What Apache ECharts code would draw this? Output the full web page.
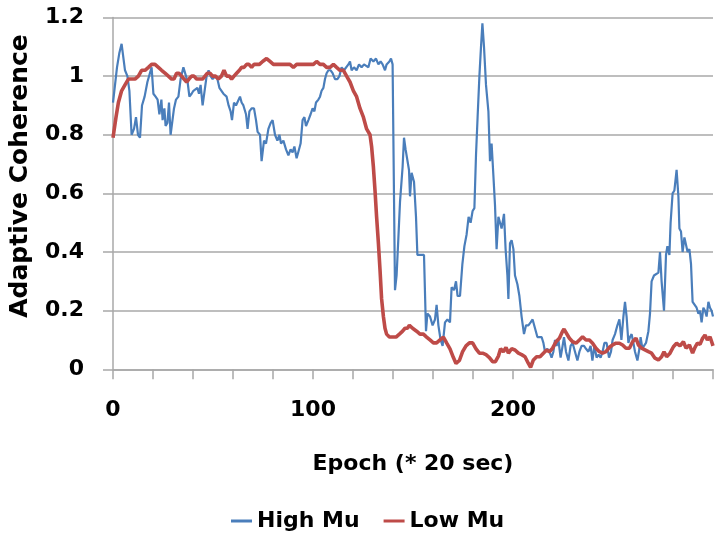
<!DOCTYPE html>
<html>
<head>
<meta charset="utf-8">
<script src="https://cdn.jsdelivr.net/npm/echarts@6/dist/echarts.min.js"></script>
<style>html,body{margin:0;padding:0;background:#fff}#c{width:723px;height:538px}</style>
</head>
<body>
<div id="c"></div>
<script>
// ---- data ----
var xTickLabels = ['0', '100', '200'];
var yTickLabels = ['0', '0.2', '0.4', '0.6', '0.8', '1', '1.2'];
var seriesNames = ['High Mu', 'Low Mu'];

var highMuEpochs = [0,2,3.2,4.3,6,7.2,8.2,9.3,10.5,11.5,12.5,13.5,14.5,15.8,17.2,18.2,19.3,20.2,21.3,22.3,23.2,24.2,24.8,25.7,26.3,27.2,28,28.8,29.5,30.5,31.5,32.7,33.8,35.2,36.5,37.3,38.2,39.3,40.2,41.2,42.2,43,43.8,44.8,45.8,46.8,47.8,48.8,49.8,51.2,52.2,53.2,54.2,55.2,56,56.8,57.8,58.8,59.5,60.5,61.5,62.5,63.5,64.3,65.2,66.5,67.3,68.2,69.3,70.5,71.5,72.3,73.5,74.3,75.5,76.5,77.7,78.8,79.8,81,82.2,83.2,84,85.2,86.5,87.7,88.8,89.8,90.7,91.8,93,93.8,94.8,95.7,96.5,97.7,98.8,99.8,100.7,101.5,102.7,103.5,104.3,105.2,106,106.8,107.7,108.8,109.8,111,112.2,113.2,114.3,115.5,116.5,117.7,118.5,119.3,120.5,121.8,123,124.3,125.5,126.5,127.7,128.8,130.2,131.5,132.7,133.8,134.8,136,136.8,138.2,139,139.8,141,141.8,142.7,143.5,144.8,145.5,146.3,147.2,148,148.5,149.3,150.5,151.5,152.2,153.5,155.5,156.5,157.2,158.5,159.8,161,161.8,162.7,163.8,164.8,166,167.2,168.5,169.3,170.5,171.5,172.3,173.5,174.7,175.7,176.8,177.8,178.8,179.8,180.7,181.5,182.3,183.2,184,184.7,185.5,186.5,187.7,188.5,189.3,190.2,191,191.8,192.7,193.5,194.3,195.5,196.3,197.2,197.7,198.5,199.3,200.2,201,202.2,203.2,204.3,205.5,206.5,207.7,208.8,209.8,211,212.2,213.2,214.3,215.2,216,217.2,218.2,219.3,220.2,221,221.8,222.7,223.8,224.8,225.5,226.5,227.7,228.8,229.8,231,232.2,233.2,234.3,235.5,236.5,237.7,238.8,239.7,240.7,241.8,242.8,243.8,244.8,245.7,246.8,248,249,249.8,251,252.2,253.2,254.2,255.2,256,256.8,257.7,258.5,259.3,260.2,261,262.2,263.2,263.8,264.7,265.5,266.5,267.7,268.5,269.3,270.5,271.5,272.7,273.5,274.3,275.5,276.5,277.2,278.2,278.8,279.8,280.7,281.8,282.7,283.2,284,284.8,285.7,286.5,287.3,288.2,289,289.8,290.8,291.8,292.7,293.5,294.3,295.2,296,296.8,297.7,298.5,299.3,300];
var highMuValues = [0.91,1.03,1.08,1.11,1.02,1.0,0.95,0.8,0.82,0.86,0.8,0.79,0.9,0.93,0.98,0.98,1.03,0.94,0.93,0.92,0.87,0.92,0.85,0.89,0.83,0.84,0.91,0.8,0.8,0.89,0.92,0.93,0.99,1.03,1.0,0.98,0.93,0.94,0.95,0.95,0.96,0.94,0.97,0.9,0.95,1.0,1.02,1.0,0.99,1.0,0.99,0.96,0.96,0.94,0.94,0.93,0.9,0.88,0.85,0.91,0.9,0.9,0.93,0.91,0.9,0.87,0.82,0.88,0.89,0.89,0.85,0.81,0.8,0.71,0.78,0.77,0.82,0.84,0.85,0.8,0.78,0.8,0.77,0.78,0.75,0.73,0.75,0.74,0.76,0.72,0.75,0.77,0.85,0.86,0.83,0.85,0.87,0.89,0.88,0.91,0.92,0.93,0.95,0.96,0.99,1.01,1.02,1.02,1.01,0.99,0.99,1.0,1.03,1.02,1.02,1.04,1.05,1.02,1.03,1.02,1.04,1.03,1.04,1.04,1.03,1.06,1.05,1.06,1.04,1.05,1.04,1.02,1.04,1.05,1.06,1.04,0.27,0.32,0.45,0.57,0.69,0.79,0.75,0.75,0.68,0.59,0.67,0.64,0.52,0.39,0.39,0.39,0.13,0.19,0.18,0.15,0.17,0.22,0.15,0.1,0.08,0.16,0.17,0.16,0.28,0.27,0.3,0.25,0.25,0.36,0.42,0.46,0.52,0.5,0.54,0.55,0.73,0.86,1.0,1.1,1.18,1.1,0.97,0.88,0.71,0.77,0.66,0.56,0.41,0.52,0.52,0.48,0.53,0.41,0.32,0.24,0.43,0.44,0.41,0.32,0.29,0.25,0.18,0.12,0.15,0.15,0.16,0.17,0.14,0.11,0.11,0.11,0.09,0.06,0.07,0.06,0.04,0.06,0.1,0.08,0.1,0.04,0.08,0.11,0.06,0.03,0.08,0.09,0.06,0.03,0.06,0.08,0.08,0.07,0.06,0.08,0.03,0.08,0.04,0.05,0.04,0.06,0.09,0.09,0.04,0.06,0.1,0.12,0.15,0.17,0.1,0.18,0.23,0.18,0.09,0.11,0.12,0.09,0.06,0.03,0.07,0.11,0.07,0.08,0.09,0.13,0.19,0.3,0.32,0.32,0.33,0.4,0.3,0.2,0.39,0.42,0.39,0.5,0.6,0.61,0.68,0.59,0.48,0.47,0.4,0.45,0.45,0.4,0.41,0.36,0.23,0.23,0.21,0.19,0.2,0.16,0.21,0.2,0.18,0.23,0.21,0.2,0.18];

var lowMuEpochs = [0,1.5,2.7,4.3,6,7.7,9.3,11,12.7,14.3,16,17.7,19.3,21,22.7,24.3,26,27.7,29.3,30.5,31.8,33,34.3,35.5,36.8,38,39.3,40.5,41.8,43.2,44.8,46,47.2,48.5,49.8,51.2,52.7,54.2,55.5,56.8,58.2,59.3,60.5,61.8,63.2,64.3,65.5,66.8,68,69.3,70.5,71.8,73.2,74.8,76.8,78.5,80.2,81.8,83.5,85.2,86.8,88.5,90.2,91.8,93.5,95.2,96.8,98.5,100.2,101.8,103.5,105.2,106.8,108.5,110.2,111.8,113.5,115.2,116.8,118.5,120.2,121.8,123.5,125.2,126.8,128.5,129.3,130.2,131,131.8,132.7,133.5,134.3,135.2,136,136.8,138.2,139.8,141.5,143.2,144.8,146,147.2,148.2,149.8,151.8,153.5,155.2,156.8,158.5,160.2,161.8,163.5,165.2,166.8,168.5,170.2,171.5,173.2,174.8,176.5,178.2,179.8,181.5,183.2,184.8,186.5,188.2,189.8,191.2,192.7,193.8,195.2,196.5,197.7,199.3,201,202.7,204.3,206,207.7,208.8,210.2,211.8,213.5,215.2,216.8,218.2,219.8,221.5,223.2,224.8,225.5,226.5,228.2,229.8,231.5,233.2,234.8,236.5,238.2,239.8,241.5,243.2,244.8,246.5,248.2,249.8,251.5,253.2,254.8,256.5,258.2,259.8,261.5,262.7,264.3,266,267.7,269.3,271,272.7,274.3,275.5,276.8,278.5,280.2,281.8,283.5,285.2,286.5,288.2,289.8,291,292.2,293.5,294.8,296,297.2,298.5,300];
var lowMuValues = [0.79,0.86,0.91,0.95,0.97,0.99,0.99,0.99,1.0,1.02,1.02,1.03,1.04,1.04,1.03,1.02,1.01,1.0,0.99,0.99,1.01,1.01,1.0,0.99,0.98,0.99,1.0,1.0,0.99,0.99,0.99,1.0,1.01,1.01,1.0,1.0,0.99,1.0,1.02,1.0,1.0,0.99,1.0,1.01,1.02,1.03,1.03,1.04,1.04,1.03,1.04,1.04,1.04,1.05,1.06,1.05,1.04,1.04,1.04,1.04,1.04,1.04,1.03,1.04,1.04,1.04,1.04,1.04,1.04,1.05,1.04,1.04,1.03,1.03,1.04,1.03,1.02,1.02,1.0,0.98,0.95,0.93,0.89,0.86,0.82,0.8,0.76,0.69,0.61,0.52,0.43,0.34,0.24,0.18,0.14,0.12,0.11,0.11,0.11,0.12,0.13,0.14,0.14,0.15,0.14,0.13,0.12,0.12,0.11,0.1,0.09,0.09,0.1,0.11,0.09,0.07,0.04,0.02,0.03,0.06,0.08,0.09,0.09,0.07,0.055,0.055,0.05,0.04,0.026,0.026,0.045,0.07,0.06,0.075,0.055,0.07,0.066,0.055,0.05,0.043,0.02,0.007,0.032,0.043,0.043,0.055,0.066,0.06,0.072,0.094,0.106,0.13,0.137,0.132,0.106,0.094,0.089,0.1,0.111,0.1,0.1,0.089,0.072,0.06,0.055,0.06,0.075,0.083,0.089,0.089,0.083,0.072,0.072,0.094,0.106,0.083,0.072,0.066,0.06,0.055,0.038,0.032,0.043,0.06,0.043,0.055,0.077,0.089,0.08,0.094,0.072,0.083,0.055,0.075,0.089,0.085,0.106,0.117,0.1,0.111,0.08];

function pairs(xs, ys) { return xs.map(function (x, i) { return [x, ys[i]]; }); }

var FONT = 'DejaVu Sans';
var GRID_COLOR = '#a8a8a8';
var BLUE = '#4a7ebb', RED = '#be4b48';
var chart = echarts.init(document.getElementById('c'), null, { renderer: 'canvas' });
chart.setOption({
  animation: false,
  backgroundColor: '#ffffff',
  grid: { left: 113, right: 10, top: 17.5, bottom: 168.7, containLabel: false, outerBoundsMode: 'none' },
  legend: {
    data: [
      { name: seriesNames[0], icon: 'rect', itemStyle: { color: BLUE } },
      { name: seriesNames[1], icon: 'rect', itemStyle: { color: RED } }
    ],
    left: 226, top: 505,
    itemWidth: 21, itemHeight: 3, itemGap: 24,
    textStyle: { fontFamily: FONT, fontWeight: 'bold', fontSize: 22, color: '#000' }
  },
  xAxis: {
    type: 'value', min: 0, max: 300, interval: 20,
    axisLine: { show: true, lineStyle: { color: GRID_COLOR, width: 1.5 } },
    axisTick: { show: true, length: 10, lineStyle: { color: GRID_COLOR, width: 1.5 } },
    splitLine: { show: false },
    axisLabel: {
      margin: 30, fontFamily: FONT, fontWeight: 'bold', fontSize: 22, color: '#000',
      formatter: function (v) { var s = String(v); return xTickLabels.indexOf(s) >= 0 ? s : ''; }
    },
    name: 'Epoch (* 20 sec)', nameLocation: 'middle', nameGap: 84,
    nameTextStyle: { fontFamily: FONT, fontWeight: 'bold', fontSize: 22, color: '#000' }
  },
  yAxis: {
    type: 'value', min: 0, max: 1.2, interval: 0.2,
    axisLine: { show: true, lineStyle: { color: GRID_COLOR, width: 1.5 } },
    axisTick: { show: true, length: 10, lineStyle: { color: GRID_COLOR, width: 1.5 } },
    splitLine: { show: true, lineStyle: { color: GRID_COLOR, width: 1.5 } },
    axisLabel: {
      margin: 29, fontFamily: FONT, fontWeight: 'bold', fontSize: 22, color: '#000',
      formatter: function (v) { return yTickLabels[Math.round(v / 0.2)]; }
    }
  },
  graphic: [{
    type: 'text', x: 20, y: 176, rotation: Math.PI / 2,
    style: { text: 'Adaptive Coherence', fill: '#000', font: 'bold 25px "DejaVu Sans"', align: 'center', verticalAlign: 'middle' }
  }],
  series: [
    { name: seriesNames[0], type: 'line', symbol: 'none', showSymbol: false, data: pairs(highMuEpochs, highMuValues),
      lineStyle: { color: BLUE, width: 2.2 }, itemStyle: { color: BLUE } },
    { name: seriesNames[1], type: 'line', symbol: 'none', showSymbol: false, data: pairs(lowMuEpochs, lowMuValues),
      lineStyle: { color: RED, width: 3.6 }, itemStyle: { color: RED } }
  ]
});
</script>
</body>
</html>
